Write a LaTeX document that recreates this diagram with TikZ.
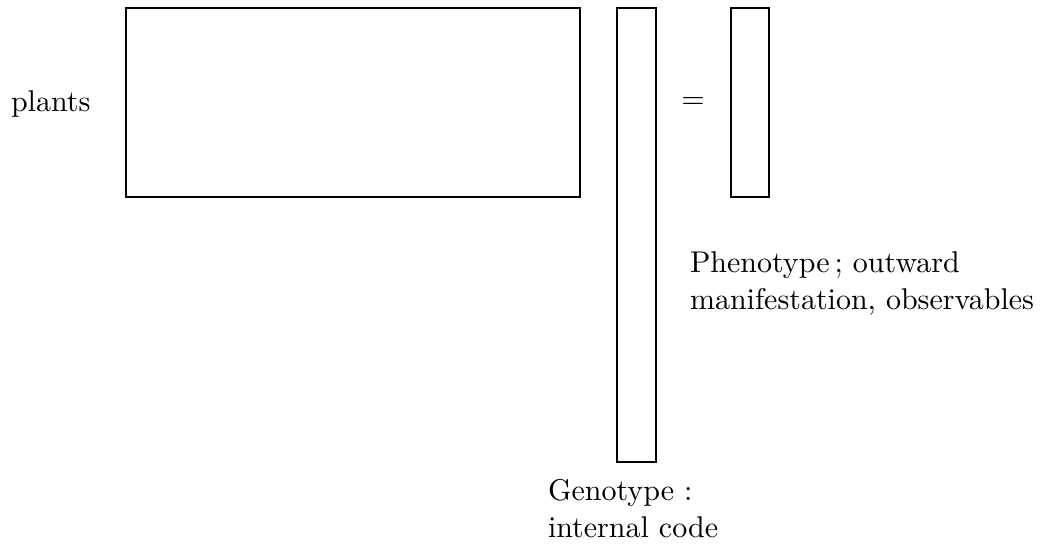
\documentclass[tikz,border=0pt]{standalone}
\usetikzlibrary{fit}
\begin{document}
\begin{tikzpicture}[x=0.3333pt,y=-0.3333pt,
  box/.style={draw=black,line width=0.4pt,inner sep=0pt,outer sep=0pt},
  lbl/.style={inner sep=0pt,outer sep=0pt,font=\fontsize{10}{12.3}\selectfont,align=left}]
\useasboundingbox (0,0) rectangle (1048,544);
\node[box,fit={(126,8) (580,197)}] (plantmat) {};
\node[box,fit={(617,8) (656,462)}] (genovec) {};
\node[box,fit={(731,8) (769,197)}] (phenovec) {};
\node[lbl,anchor=base west] (plants) at (11,111) {plants};
\node[lbl,anchor=base] (eq) at (693,108.5) {$=$};
\node[lbl,anchor=north west] (phenolbl) at (690,252) {Phenotype\,; outward\\manifestation, observables};
\node[lbl,anchor=north west] (genolbl) at (548,479) {Genotype :\\internal code};
\end{tikzpicture}
\end{document}
